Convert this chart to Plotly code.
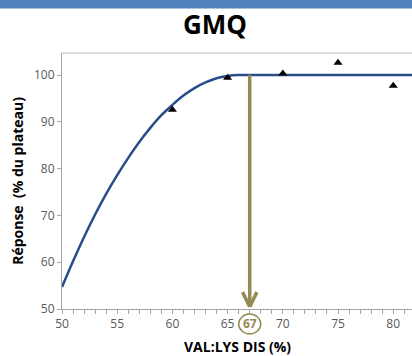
import plotly.graph_objects as go

# ---- data ----
curve_x = [50, 51, 52, 53, 54, 55, 56, 57, 58, 59, 60, 61, 62, 63, 64, 65, 66, 67, 70, 75, 80, 82]
curve_y = [54.7, 60.2, 65.4, 70.2, 74.6, 78.6, 82.3, 85.7, 88.7, 91.4, 93.6, 95.6, 97.2, 98.4, 99.3, 99.8, 100, 100, 100, 100, 100, 100]
obs_x = [60, 65, 70, 75, 80]
obs_y = [92.6, 99.4, 100.3, 102.6, 97.7]
optimum_x = 67
plateau_y = 100
x_ticks = [50, 55, 60, 65, 70, 75, 80]
y_ticks = [50, 60, 70, 80, 90, 100]
title_text = "GMQ"
x_title = "VAL:LYS DIS (%)"
y_title = "Réponse  (% du plateau)"

OLIVE = "#948A54"
FONT = "Open Sans"

fig = go.Figure()
fig.add_trace(go.Scatter(x=curve_x, y=curve_y, mode="lines", line_shape="spline",
                         line=dict(color="#2A4D8A", width=2.5), hoverinfo="skip"))
fig.add_trace(go.Scatter(x=obs_x, y=obs_y, mode="markers",
                         marker=dict(symbol="triangle-up", size=8, color="black")))

X0, X1 = 50, 81.7
Y0, Y1 = 50, 104.7

shapes = [
    # top blue band
    dict(type="rect", xref="paper", yref="paper", x0=-0.2, x1=1.05, y0=1.174, y1=1.25,
         fillcolor="#4F81BD", line=dict(width=0), layer="above"),
    # plot top border
    dict(type="line", xref="paper", yref="paper", x0=0, x1=1, y0=1, y1=1,
         line=dict(color="#D0D0D0", width=1.5)),
    # arrow shaft
    dict(type="line", xref="x", yref="y", x0=optimum_x, x1=optimum_x, y0=plateau_y, y1=Y0 + 0.5,
         line=dict(color=OLIVE, width=3.5)),
    # arrow head
    dict(type="line", xref="x", yref="y", x0=optimum_x - 0.65, x1=optimum_x, y0=Y0 + 3.6, y1=Y0 + 0.5,
         line=dict(color=OLIVE, width=3.5)),
    dict(type="line", xref="x", yref="y", x0=optimum_x + 0.65, x1=optimum_x, y0=Y0 + 3.6, y1=Y0 + 0.5,
         line=dict(color=OLIVE, width=3.5)),
    # circle around optimum label
    dict(type="circle", xref="x", yref="paper",
         x0=optimum_x - 1.0, x1=optimum_x + 1.0, y0=-0.097, y1=-0.020,
         line=dict(color=OLIVE, width=1.5)),
]

annotations = [
    dict(text=f"<b>{title_text}</b>", xref="paper", yref="paper", x=0.437, y=1.115,
         showarrow=False, font=dict(family=FONT, size=26, color="black"),
         xanchor="center", yanchor="middle"),
    dict(text=f"<b>{x_title}</b>", xref="paper", yref="paper", x=0.50, y=-0.147,
         showarrow=False, font=dict(family=FONT, size=14, color="black"),
         xanchor="center", yanchor="middle"),
    dict(text=f"<b>{y_title}</b>", xref="paper", yref="paper", x=-0.129, y=0.5,
         showarrow=False, textangle=-90, font=dict(family=FONT, size=14, color="black"),
         xanchor="center", yanchor="middle"),
    dict(text=f"<b>{optimum_x}</b>", xref="x", yref="paper", x=optimum_x, y=-0.058,
         showarrow=False, font=dict(family=FONT, size=12, color=OLIVE),
         xanchor="center", yanchor="middle"),
]

fig.update_layout(
    width=412, height=356,
    margin=dict(l=62, r=0, t=53, b=47),
    paper_bgcolor="white", plot_bgcolor="white",
    showlegend=False,
    shapes=shapes, annotations=annotations,
    font=dict(family=FONT, size=12, color="#595959"),
    xaxis=dict(range=[X0, X1], tickvals=x_ticks, ticktext=[str(v) for v in x_ticks],
               showgrid=False, zeroline=False, showline=True, linecolor="#A6A6A6", linewidth=1,
               ticks="outside", ticklen=4, tickcolor="#A6A6A6",
               minor=dict(dtick=1, ticks="outside", ticklen=4, tickcolor="#A6A6A6"),
               tickfont=dict(family=FONT, size=12, color="#595959")),
    yaxis=dict(range=[Y0, Y1], tickvals=y_ticks, showgrid=False, zeroline=False,
               showline=True, linecolor="#A6A6A6", linewidth=1,
               ticks="outside", ticklen=4, tickcolor="#A6A6A6",
               tickfont=dict(family=FONT, size=12, color="#595959")),
)

fig.write_html("out.html", config={"displayModeBar": False},
               post_script="document.body.style.margin='0';document.body.style.overflow='hidden';")
